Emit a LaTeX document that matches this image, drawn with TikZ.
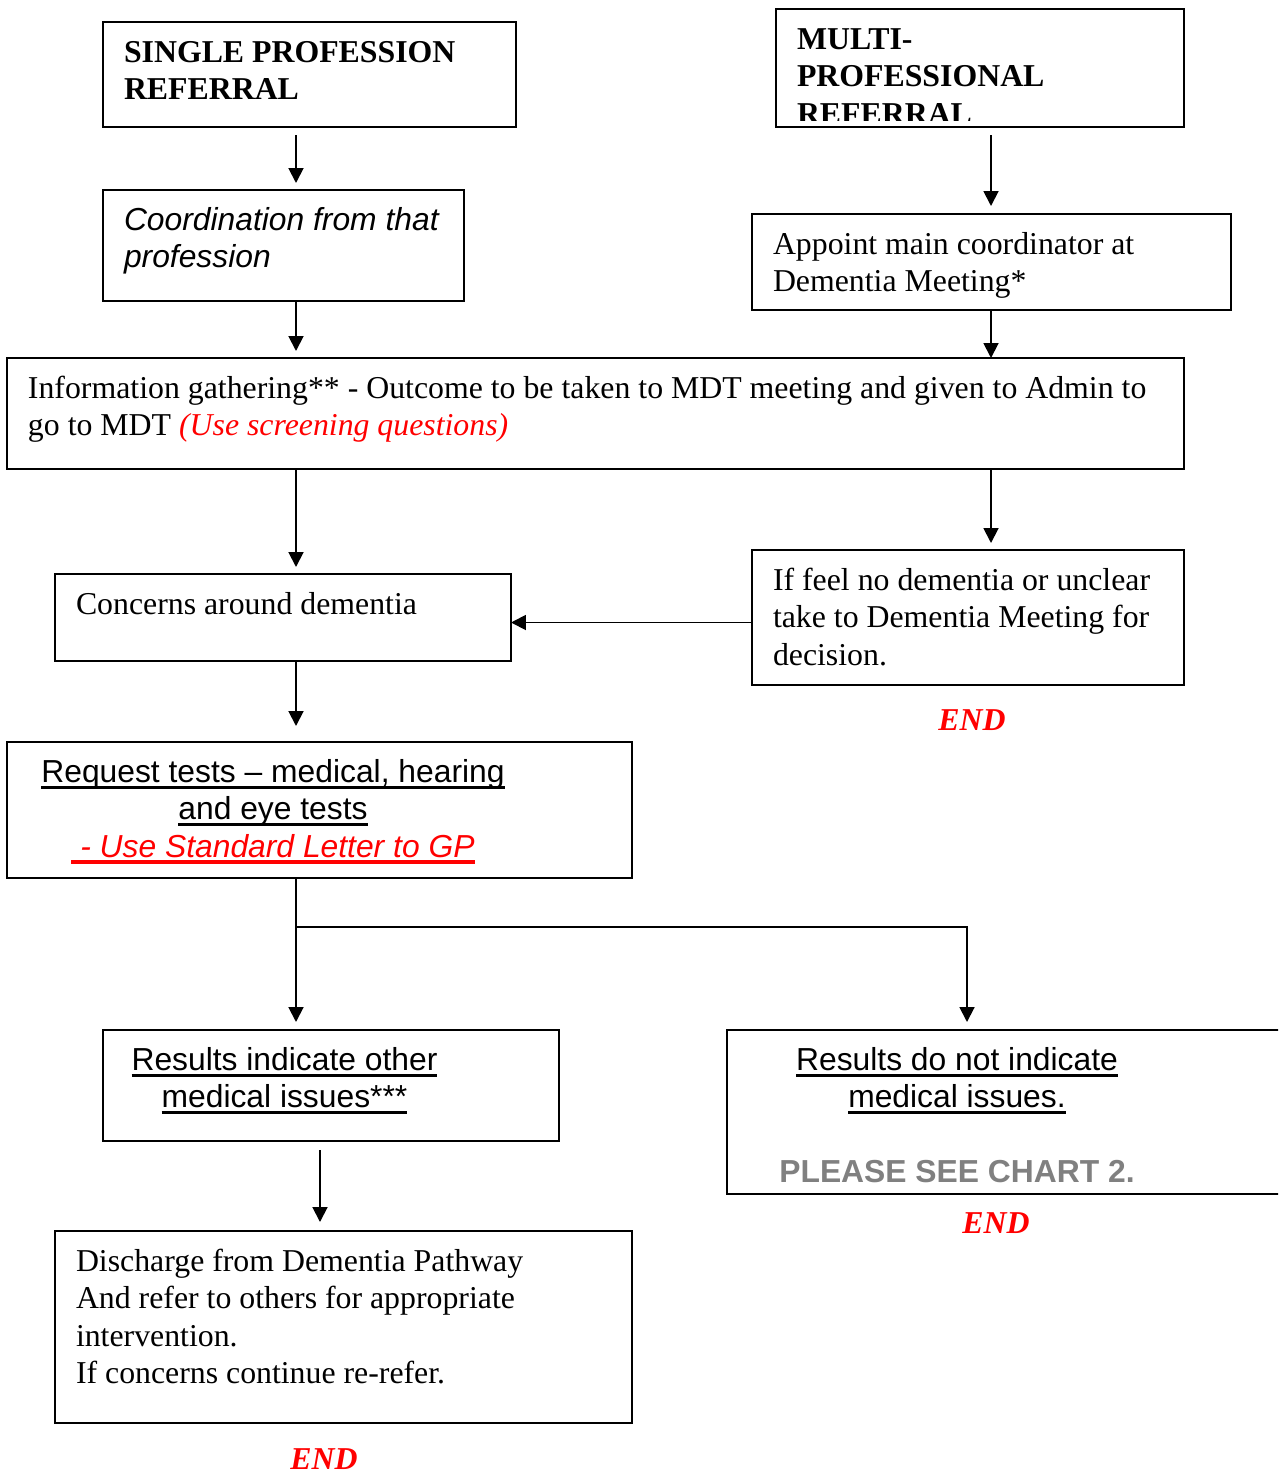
\documentclass[tikz,border=0pt]{standalone}
\usepackage{fontspec}
\setmainfont{Liberation Serif}
\setsansfont{Liberation Sans}
\usetikzlibrary{arrows.meta}
\definecolor{chartgrey}{RGB}{128,128,128}
\newcommand{\boxfont}{\fontsize{18.1pt}{21.2pt}\selectfont}
\newsavebox{\undlbox}
\newcommand{\undl}[1]{\leavevmode\sbox{\undlbox}{#1}\rlap{\rule[-3.8pt]{\wd\undlbox}{1.9pt}}\usebox{\undlbox}}
\tikzset{boxnode/.style={draw, line width=1.1pt, anchor=north west, align=flush left, inner xsep=0.42cm, inner ysep=0pt, outer sep=0pt, text height=0.81cm, font=\boxfont}}
\tikzset{arrowline/.style={line width=1.1pt, -{Triangle[length=8.5pt,width=8.5pt]}}}
\tikzset{endnode/.style={anchor=base, text=red, font=\boxfont\bfseries\itshape}}

\begin{document}
\begin{tikzpicture}
\clip (0,0) rectangle (25.56,-29.5);
\coordinate (colL) at (5.92,0);
\coordinate (colR) at (19.82,0);
\coordinate (colS) at (19.34,0);
\coordinate (colD) at (6.40,0);
\coordinate (rowH) at (0,-12.45);
\coordinate (split) at (5.92,-18.54);

\node[style=boxnode, text width=7.42cm, text depth=1.29cm, font=\boxfont\bfseries] (single) at (2.06,-0.44) {SINGLE PROFESSION\\REFERRAL};
\node[style=boxnode, text width=6.38cm, text depth=1.41cm, font=\boxfont\sffamily\itshape] (coord) at (2.06,-3.80) {Coordination from that\\profession};

\node[style=boxnode, text width=7.32cm, text depth=1.55cm] (multi) at (15.52,-0.18) {};
\begin{scope}
\clip (multi.north west) rectangle ([yshift=0.14cm]multi.south east);
\node[style=boxnode, draw=none, text width=7.32cm, text depth=1.55cm, font=\boxfont\bfseries] (multitext) at (multi.north west) {MULTI-\\PROFESSIONAL\\REFERRAL};
\end{scope}
\node[style=boxnode, text width=8.74cm, text depth=1.11cm] (appoint) at (15.04,-4.28) {Appoint main coordinator at\\Dementia Meeting*};

\node[style=boxnode, text width=22.70cm, text depth=1.41cm] (info) at (0.14,-7.16) {Information gathering** - Outcome to be taken to MDT meeting and given to Admin to\\go to MDT \textcolor{red}{\itshape (Use screening questions)}};

\node[style=boxnode, text width=8.28cm, text depth=0.93cm] (concern) at (1.10,-11.48) {Concerns around dementia};
\node[style=boxnode, text width=7.80cm, text depth=1.89cm] (nodem) at (15.04,-11.00) {If feel no dementia or unclear\\take to Dementia Meeting for\\decision.};
\node[style=endnode] (end1) at (19.44,-14.60) {END};

\node[style=boxnode, text width=11.66cm, text depth=1.91cm, font=\boxfont\sffamily] (tests) at (0.14,-14.84) {\parbox[t]{9.8cm}{\centering\undl{Request tests – medical, hearing}\\\undl{and eye tests}\\{\color{red}\itshape\undl{\ - Use Standard Letter to GP}}}};

\node[style=boxnode, text width=8.28cm, text depth=1.41cm, font=\boxfont\sffamily] (other) at (2.06,-20.60) {\parbox[t]{6.42cm}{\centering\undl{Results indicate other}\\\undl{medical issues***}}};
\node[style=boxnode, text width=10.36cm, text depth=2.47cm, font=\boxfont\sffamily] (noissue) at (14.54,-20.60) {\parbox[t]{8.36cm}{\centering\undl{Results do not indicate}\\\undl{medical issues.}\\\mbox{}\\{\color{chartgrey}\bfseries PLEASE SEE CHART 2.}}};
\node[style=endnode] (end2) at (19.92,-24.66) {END};

\node[style=boxnode, text width=10.70cm, text depth=3.03cm] (discharge) at (1.10,-24.62) {Discharge from Dementia Pathway\\And refer to others for appropriate\\intervention.\\If concerns continue re-refer.};
\node[style=endnode] (end3) at (6.48,-29.39) {END};

\draw[style=arrowline, shorten <=0.16cm, shorten >=0.14cm] (single.south -| colL) -- (coord.north -| colL);
\draw[style=arrowline, shorten >=0.14cm] (coord.south -| colL) -- (info.north -| colL);
\draw[style=arrowline, shorten <=0.16cm, shorten >=0.16cm] (multi.south -| colR) -- (appoint.north -| colR);
\draw[style=arrowline] (appoint.south -| colR) -- (info.north -| colR);
\draw[style=arrowline, shorten >=0.14cm] (info.south -| colL) -- (concern.north -| colL);
\draw[style=arrowline, shorten >=0.14cm] (info.south -| colR) -- (nodem.north -| colR);
\draw[style=arrowline] (nodem.west |- rowH) -- (concern.east |- rowH);
\draw[style=arrowline, shorten >=0.32cm] (concern.south -| colL) -- (tests.north -| colL);
\draw[style=arrowline, shorten >=0.16cm] (tests.south -| colL) -- (other.north -| colL);
\draw[style=arrowline, shorten >=0.16cm] (split) -| (noissue.north -| colS);
\draw[style=arrowline, shorten <=0.18cm, shorten >=0.18cm] (other.south -| colD) -- (discharge.north -| colD);
\end{tikzpicture}
\end{document}
